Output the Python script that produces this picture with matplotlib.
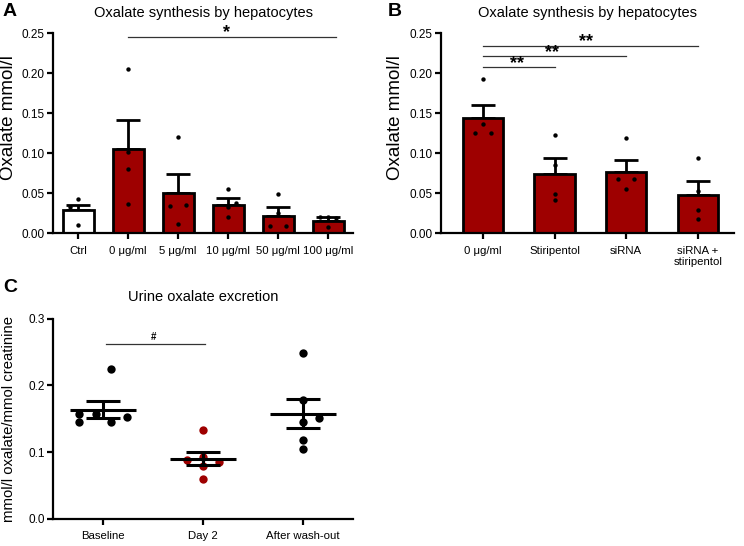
import matplotlib
matplotlib.use("Agg")
import matplotlib.pyplot as plt
import numpy as np

plt.rcParams['font.family'] = ['Liberation Sans', 'DejaVu Sans']

# ---------------- data ----------------
a_labels = ["Ctrl", "0 μg/ml", "5 μg/ml", "10 μg/ml", "50 μg/ml", "100 μg/ml"]
a_means = [0.029, 0.105, 0.050, 0.036, 0.022, 0.016]
a_sem = [0.007, 0.037, 0.024, 0.008, 0.011, 0.004]
a_points = [
    [0.0425, 0.0325, 0.011],
    [0.205, 0.102, 0.080, 0.037],
    [0.120, 0.034, 0.036, 0.012],
    [0.055, 0.038, 0.033, 0.021],
    [0.049, 0.0255, 0.009, 0.009],
    [0.020, 0.020, 0.019, 0.008],
]

b_labels = ["0 μg/ml", "Stiripentol", "siRNA", "siRNA +\nstiripentol"]
b_means = [0.144, 0.074, 0.0766, 0.048]
b_sem = [0.017, 0.020, 0.0154, 0.018]
b_points = [
    [0.193, 0.136, 0.126, 0.126],
    [0.123, 0.086, 0.049, 0.042],
    [0.119, 0.0675, 0.0675, 0.056],
    [0.0946, 0.053, 0.029, 0.018],
]

c_labels = ["Baseline", "Day 2", "After wash-out"]
c_means = [0.1635, 0.090, 0.1575]
c_sem = [0.0128, 0.010, 0.0215]
c_points = [
    [0.2245, 0.157, 0.157, 0.145, 0.145, 0.152],
    [0.1335, 0.0875, 0.085, 0.0925, 0.0785, 0.060],
    [0.248, 0.178, 0.1445, 0.151, 0.1175, 0.105],
]

# ---------------- layout / style ----------------
RED = "#9E0000"
W, H = 744, 546
# point offsets (swarm layout), in units of half a dot spacing
a_offsets = [[0.0, -0.5, 0.0], [0, 0, 0, 0], [0.0, -0.5, 0.5, 0.0], [0, 0.5, 0, 0], [0, 0, -0.5, 0.5], [0, -0.5, 0.5, 0]]
b_offsets = [[0, 0, -0.5, 0.5], [0, 0, 0, 0], [0, -0.5, 0.5, 0], [0, 0, 0, 0]]
c_offsets = [[0.077, -0.24, -0.076, -0.24, 0.077, 0.24],
             [0.0, -0.165, 0.16, 0.0, 0.0, 0.0],
             [0.0, 0.0, 0.0, 0.16, 0.0, 0.0]]

fig = plt.figure(figsize=(W / 100, H / 100), dpi=100)


def ax_rect(l, r, t, b):
    return [l / W, 1 - b / H, (r - l) / W, (b - t) / H]


def style_axes(ax):
    for s in ["top", "right"]:
        ax.spines[s].set_visible(False)
    for s in ["left", "bottom"]:
        ax.spines[s].set_linewidth(1.6)
    ax.tick_params(axis="both", direction="out", length=4, width=1.6, labelsize=8.5, pad=2)
    ax.tick_params(axis="x", labelsize=8.2, pad=5)


def bar_panel(ax, labels, means, sems, points, offsets, colors, ptspace):
    x = np.arange(len(labels))
    ax.bar(x, means, width=ptspace["width"], color=colors, edgecolor="black",
           linewidth=2.0, zorder=2)
    ax.errorbar(x, means, yerr=[np.zeros(len(sems)), sems], fmt="none",
                ecolor="black", elinewidth=2.0, capsize=8.5, capthick=2.0, zorder=1)
    for i, pts in enumerate(points):
        xs = [i + o * ptspace["dx"] for o in offsets[i]]
        ax.scatter(xs, pts, s=10, color="black", zorder=4, linewidths=0)
    ax.set_xticks(x)
    ax.set_xticklabels(labels)


# ---------- Panel A ----------
axA = fig.add_axes(ax_rect(53, 353, 33.3, 233.3))
style_axes(axA)
bar_panel(axA, a_labels, a_means, a_sem, a_points, a_offsets,
          ["white"] + [RED] * 5, {"width": 0.62, "dx": 0.33})
axA.set_xlim(-0.5, 5.5)
axA.set_ylim(0, 0.25)
axA.set_yticks([0, 0.05, 0.10, 0.15, 0.20, 0.25])
axA.set_yticklabels(["0.00", "0.05", "0.10", "0.15", "0.20", "0.25"])
axA.set_ylabel("Oxalate mmol/l", fontsize=13.5)
axA.yaxis.set_label_coords(-0.12, 0.58)
axA.set_title("Oxalate synthesis by hepatocytes", fontsize=10.5, pad=12)
axA.plot([1, 5.15], [0.2455, 0.2455], color="#333333", lw=0.9, clip_on=False)
axA.text(2.97, 0.2405, "*", ha="center", va="bottom", fontsize=13, fontweight="bold")

# ---------- Panel B ----------
axB = fig.add_axes(ax_rect(441.3, 733.7, 33.3, 233.3))
style_axes(axB)
bar_panel(axB, b_labels, b_means, b_sem, b_points, b_offsets,
          [RED] * 4, {"width": 0.56, "dx": 0.22})
axB.set_xlim(-0.58, 3.5)
axB.set_ylim(0, 0.25)
axB.set_yticks([0, 0.05, 0.10, 0.15, 0.20, 0.25])
axB.set_yticklabels(["0.00", "0.05", "0.10", "0.15", "0.20", "0.25"])
axB.set_ylabel("Oxalate mmol/l", fontsize=13.5)
axB.yaxis.set_label_coords(-0.128, 0.58)
axB.set_title("Oxalate synthesis by hepatocytes", fontsize=10.5, pad=12)
for (x2, yv) in [(1, 0.2075), (2, 0.221), (3, 0.2345)]:
    axB.plot([0, x2], [yv, yv], color="#333333", lw=0.9, clip_on=False)
    axB.text(x2 / 2 - 0.02 * x2, yv - 0.0055, "**", ha="center", va="bottom",
             fontsize=13, fontweight="bold")

# ---------- Panel C ----------
axC = fig.add_axes(ax_rect(53.3, 353.3, 318.7, 518.7))
style_axes(axC)
c_colors = ["black", RED, "black"]
for i, pts in enumerate(c_points):
    xs = [i + o for o in c_offsets[i]]
    axC.scatter(xs, pts, s=36, color=c_colors[i], zorder=2, linewidths=0)
    axC.plot([i - 0.33, i + 0.33], [c_means[i], c_means[i]], color="black", lw=2.2,
             zorder=3, solid_capstyle="butt")
    axC.errorbar([i], [c_means[i]], yerr=[[c_sem[i]], [c_sem[i]]], fmt="none",
                 ecolor="black", elinewidth=2.2, capsize=12, capthick=2.2, zorder=3)
axC.set_xticks(range(len(c_labels)))
axC.set_xticklabels(c_labels)
axC.set_xlim(-0.5, 2.5)
axC.set_ylim(0, 0.3)
axC.set_yticks([0, 0.1, 0.2, 0.3])
axC.set_yticklabels(["0.0", "0.1", "0.2", "0.3"])
axC.set_ylabel("mmol/l oxalate/mmol creatinine", fontsize=10.7)
axC.yaxis.set_label_coords(-0.124, 0.5)
axC.set_title("Urine oxalate excretion", fontsize=10.5, pad=13)
axC.plot([0.03, 1.02], [0.2615, 0.2615], color="#333333", lw=0.9)
axC.text(0.5, 0.265, "#", ha="center", va="bottom", fontsize=7, fontweight="bold")

# panel letters
fig.text(3 / W, 1 - 3 / H, "A", fontsize=14, fontweight="bold", va="top", ha="left")
fig.text(388 / W, 1 - 3 / H, "B", fontsize=14, fontweight="bold", va="top", ha="left")
fig.text(3 / W, 1 - 279 / H, "C", fontsize=14, fontweight="bold", va="top", ha="left")

fig.savefig("out.png", dpi=100)
